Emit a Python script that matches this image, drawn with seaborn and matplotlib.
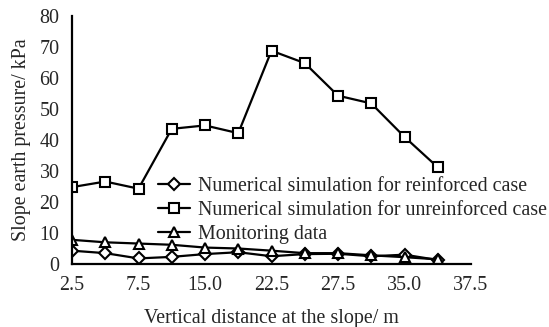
import matplotlib
matplotlib.use("Agg")
import matplotlib.pyplot as plt
import seaborn as sns
import pandas as pd
import numpy as np

# Measurement points along the slope (category positions on the x axis)
point_index = list(range(12))

reinforced = [4.3, 3.5, 1.8, 2.3, 3.2, 3.8, 2.5, 3.2, 3.3, 2.5, 3.0, 1.3]
unreinforced = [24.8, 26.6, 24.3, 43.6, 44.7, 42.2, 68.8, 64.8, 54.3, 51.8, 41.0, 31.2]
monitoring = [7.8, 7.0, 6.6, 6.2, 5.3, 5.0, 4.3, 3.5, 3.5, 2.8, 2.2, 1.5]

series_names = [
    "Numerical simulation for reinforced case",
    "Numerical simulation for unreinforced case",
    "Monitoring data",
]
series_markers = ["D", "s", "^"]
series_sizes = [6, 6.5, 7.5]

tick_positions = [0, 2, 4, 6, 8, 10, 12]
tick_labels = ["2.5", "7.5", "15.0", "22.5", "27.5", "35.0", "37.5"]

df = pd.DataFrame({
    "x": point_index * 3,
    "value": reinforced + unreinforced + monitoring,
    "series": sum([[n] * len(point_index) for n in series_names], []),
})

sns.set_style("white")
plt.rcParams["font.family"] = ["Liberation Serif", "DejaVu Serif"]

FS = 14.4

fig = plt.figure(figsize=(5.49, 3.27), dpi=100)
ax = fig.add_axes([72 / 549, (327 - 264) / 327, 399 / 549, 248 / 327])

for name, mk, ms in zip(series_names, series_markers, series_sizes):
    sub = df[df["series"] == name]
    sns.lineplot(data=sub, x="x", y="value", ax=ax, color="black",
                 marker=mk, markersize=ms, markerfacecolor="white",
                 markeredgecolor="black", markeredgewidth=1.5,
                 linewidth=1.6, label=name)

ax.set_xlim(0, 12)
ax.set_ylim(0, 80)
ax.set_yticks(np.arange(0, 81, 10))

# labels every two categories, short inward marks every four
ax.xaxis.remove_overlapping_locs = False
ax.set_xticks(tick_positions)
ax.set_xticklabels(tick_labels)
ax.set_xticks([0, 4, 8, 12], minor=True)
ax.tick_params(axis="x", which="major", length=0, pad=9, labelsize=FS)
ax.tick_params(axis="x", which="minor", direction="in", length=5, width=1.5)
ax.tick_params(axis="y", direction="in", length=5, width=1.5, labelsize=FS, pad=9)

for side in ["top", "right"]:
    ax.spines[side].set_visible(False)
for side in ["left", "bottom"]:
    ax.spines[side].set_color("black")
    ax.spines[side].set_linewidth(1.6)

ax.set_xlabel("Vertical distance at the slope/ m", fontsize=FS, labelpad=10)
ax.set_ylabel("Slope earth pressure/ kPa", fontsize=FS, labelpad=6)

leg = ax.legend(loc="upper left", bbox_to_anchor=(0.195, 0.385), frameon=False,
                fontsize=FS, handlelength=1.6, handletextpad=0.4,
                labelspacing=0.25, borderaxespad=0)

fig.savefig("out.png", dpi=100)
